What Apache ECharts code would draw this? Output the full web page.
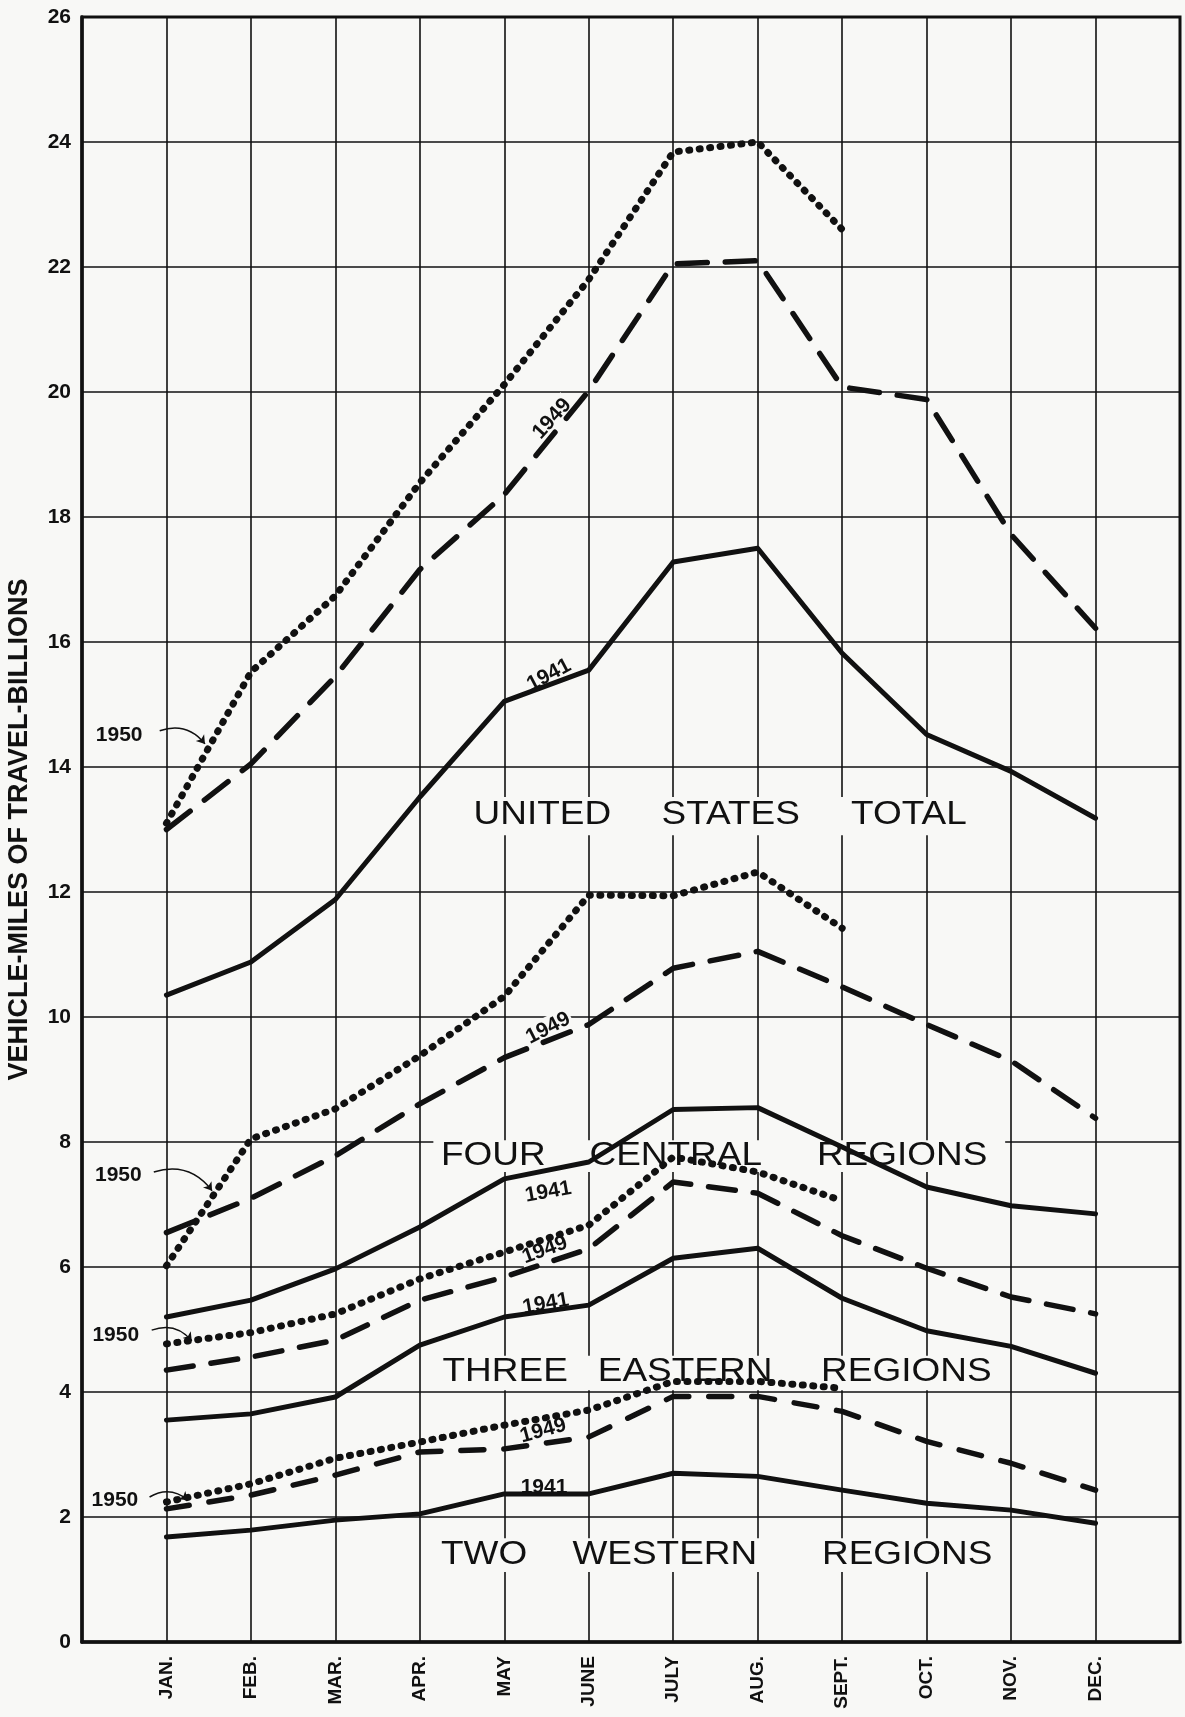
<!DOCTYPE html>
<html>
<head>
<meta charset="utf-8">
<title>Vehicle-miles of travel</title>
<script src="https://cdn.jsdelivr.net/npm/echarts/dist/echarts.min.js"></script>
<style>
  html, body { margin: 0; padding: 0; background: #f8f8f6; }
  #chart { width: 1185px; height: 1717px; }
</style>
</head>
<body>
<div id="chart"></div>
<script>
// month tick labels, x positions 1..12 (0 and 13 are the blank edge columns)
const months = ['JAN.', 'FEB.', 'MAR.', 'APR.', 'MAY', 'JUNE', 'JULY', 'AUG.', 'SEPT.', 'OCT.', 'NOV.', 'DEC.'];

// billions of vehicle-miles
const us1941 = [10.35, 10.88, 11.88, 13.52, 15.05, 15.55, 17.28, 17.5, 15.82, 14.52, 13.93, 13.18];
const us1949 = [13.0, 14.05, 15.45, 17.16, 18.36, 20.02, 22.05, 22.1, 20.08, 19.88, 17.72, 16.22];
const us1950 = [13.1, 15.52, 16.74, 18.55, 20.12, 21.8, 23.84, 24.0, 22.6];

const central1941 = [5.2, 5.47, 5.97, 6.64, 7.41, 7.68, 8.52, 8.55, 7.92, 7.28, 6.98, 6.85];
const central1949 = [6.55, 7.1, 7.78, 8.61, 9.35, 9.88, 10.78, 11.05, 10.48, 9.88, 9.3, 8.38];
const central1950 = [6.02, 8.05, 8.53, 9.38, 10.33, 11.95, 11.94, 12.32, 11.42];

const eastern1941 = [3.55, 3.65, 3.92, 4.75, 5.2, 5.39, 6.14, 6.3, 5.5, 4.98, 4.73, 4.3];
const eastern1949 = [4.35, 4.56, 4.83, 5.47, 5.84, 6.29, 7.36, 7.18, 6.5, 5.98, 5.52, 5.25];
const eastern1950 = [4.77, 4.95, 5.25, 5.81, 6.24, 6.67, 7.76, 7.52, 7.06];

const western1941 = [1.68, 1.79, 1.95, 2.05, 2.37, 2.37, 2.7, 2.65, 2.43, 2.22, 2.11, 1.9];
const western1949 = [2.13, 2.35, 2.67, 3.04, 3.09, 3.28, 3.93, 3.93, 3.69, 3.21, 2.86, 2.43];
const western1950 = [2.24, 2.53, 2.94, 3.2, 3.47, 3.71, 4.17, 4.17, 4.06];

// region titles, placed in data coordinates
const titleWords = [
    { text: 'UNITED', x: 5.45, y: 13.23 }, { text: 'STATES', x: 7.68, y: 13.23 }, { text: 'TOTAL', x: 9.79, y: 13.23 },
    { text: 'FOUR', x: 4.87, y: 7.78 }, { text: 'CENTRAL', x: 7.03, y: 7.78 }, { text: 'REGIONS', x: 9.71, y: 7.78 },
    { text: 'THREE', x: 5.01, y: 4.32 }, { text: 'EASTERN', x: 7.14, y: 4.32 }, { text: 'REGIONS', x: 9.76, y: 4.32 },
    { text: 'TWO', x: 4.76, y: 1.39 }, { text: 'WESTERN', x: 6.9, y: 1.39 }, { text: 'REGIONS', x: 9.77, y: 1.39 }
];
// paper-coloured boxes behind the titles (they break the grid)
const titleBoxes = [
    [4.47, 13.52, 10.57, 12.91],
    [4.16, 8.03, 10.93, 7.52],
    [4.18, 4.58, 10.87, 4.03],
    [4.12, 1.66, 10.87, 1.12]
];
// year tags: text, x, y, rotation in degrees
const yearTags = [
    ['1949', 5.565, 19.57, 48], ['1941', 5.53, 15.47, 28], ['1950', 0.44, 14.51, 0],
    ['1949', 5.52, 9.82, 27], ['1941', 5.52, 7.2, 10], ['1950', 0.43, 7.47, 0],
    ['1949', 5.48, 6.27, 20], ['1941', 5.49, 5.41, 10], ['1950', 0.40, 4.91, 0],
    ['1949', 5.46, 3.38, 15], ['1941', 5.47, 2.48, 0], ['1950', 0.39, 2.27, 0]
];
// curved pointer arrows from the 1950 tags to the dotted lines
const arrows = [
    [[0.92, 14.58], [1.456, 14.37]],
    [[0.85, 7.52], [1.54, 7.22]],
    [[0.825, 4.99], [1.30, 4.82]],
    [[0.80, 2.32], [1.255, 2.27]]
];

const ink = '#111111';
const paper = '#f8f8f6';
const font = '"Liberation Sans", Arial, sans-serif';

let chart = echarts.init(document.getElementById('chart'));

function lineSeries(name, values, lineStyle) {
    return {
        name: name,
        type: 'line',
        z: 5,
        silent: true,
        symbol: 'none',
        animation: false,
        data: values.map((v, i) => [i + 1, v]),
        lineStyle: Object.assign({ color: ink, cap: 'round', join: 'round' }, lineStyle)
    };
}

const groups = [
    { name: 'United States total', a: us1941, b: us1949, c: us1950, dash: [30, 18] },
    { name: 'Four central regions', a: central1941, b: central1949, c: central1950, dash: [29, 18] },
    { name: 'Three eastern regions', a: eastern1941, b: eastern1949, c: eastern1950, dash: [27, 18] },
    { name: 'Two western regions', a: western1941, b: western1949, c: western1950, dash: [23, 20] }
];

let series = [];
groups.forEach(g => {
    series.push(lineSeries(g.name + ' 1941', g.a, { type: 'solid', width: 5 }));
    series.push(lineSeries(g.name + ' 1949', g.b, { type: g.dash, width: 5.5 }));
    series.push(lineSeries(g.name + ' 1950', g.c, { type: [1, 9.5], width: 7 }));
});
series.push({
    type: 'lines',
    coordinateSystem: 'cartesian2d',
    z: 5,
    silent: true,
    animation: false,
    symbol: ['none', 'arrow'],
    symbolSize: 8,
    lineStyle: { color: ink, width: 1.5, curveness: 0.35, opacity: 1 },
    data: arrows.map(a => ({ coords: a }))
});

let option = {
    backgroundColor: paper,
    animation: false,
    grid: {
        left: 82,
        right: 5,
        top: 17,
        bottom: 75,
        show: true,
        borderColor: ink,
        borderWidth: 3,
        containLabel: false,
        outerBoundsMode: 'none'
    },
    xAxis: {
        type: 'value',
        min: 0,
        max: 13,
        interval: 1,
        axisLine: { show: true, lineStyle: { color: ink, width: 3.5 } },
        axisTick: { show: false },
        splitLine: { show: true, lineStyle: { color: ink, width: 1.6 } },
        axisLabel: {
            rotate: 90,
            margin: 14,
            color: ink,
            fontFamily: font,
            fontWeight: 'bold',
            fontSize: 19,
            formatter: v => months[v - 1] || ''
        }
    },
    yAxis: {
        type: 'value',
        min: 0,
        max: 26,
        interval: 2,
        name: 'VEHICLE-MILES OF TRAVEL-BILLIONS',
        nameLocation: 'middle',
        nameGap: 49,
        nameMoveOverlap: false,
        nameTextStyle: { color: ink, fontFamily: font, fontWeight: 'bold', fontSize: 27 },
        axisLine: { show: true, lineStyle: { color: ink, width: 3.5 } },
        axisTick: { show: false },
        splitLine: { show: true, lineStyle: { color: ink, width: 1.6 } },
        axisLabel: {
            margin: 11,
            color: ink,
            fontFamily: font,
            fontWeight: 'bold',
            fontSize: 21
        }
    },
    series: series
};
chart.setOption(option);

// titles and tags go between the grid and the lines
function px(x, y) {
    return chart.convertToPixel({ gridIndex: 0 }, [x, y]);
}
let elements = [];
titleBoxes.forEach(b => {
    let p1 = px(b[0], b[1]), p2 = px(b[2], b[3]);
    elements.push({
        type: 'rect', z: 2, silent: true,
        shape: { x: p1[0], y: p1[1], width: p2[0] - p1[0], height: p2[1] - p1[1] },
        style: { fill: paper }
    });
});
titleWords.forEach(w => {
    let p = px(w.x, w.y);
    elements.push({
        type: 'text', z: 3, silent: true, x: p[0], y: p[1], scaleX: 1.12,
        style: { text: w.text, fill: ink, font: '33px ' + font, align: 'center', verticalAlign: 'middle' }
    });
});
yearTags.forEach(t => {
    let p = px(t[1], t[2]);
    elements.push({
        type: 'text', z: 3, silent: true, x: p[0], y: p[1],
        rotation: t[3] * Math.PI / 180,
        style: {
            text: t[0], fill: ink, font: 'bold 21px ' + font,
            align: 'center', verticalAlign: 'middle',
            backgroundColor: paper, padding: [1, 2]
        }
    });
});
chart.setOption({ graphic: { elements: elements } });
</script>
</body>
</html>
